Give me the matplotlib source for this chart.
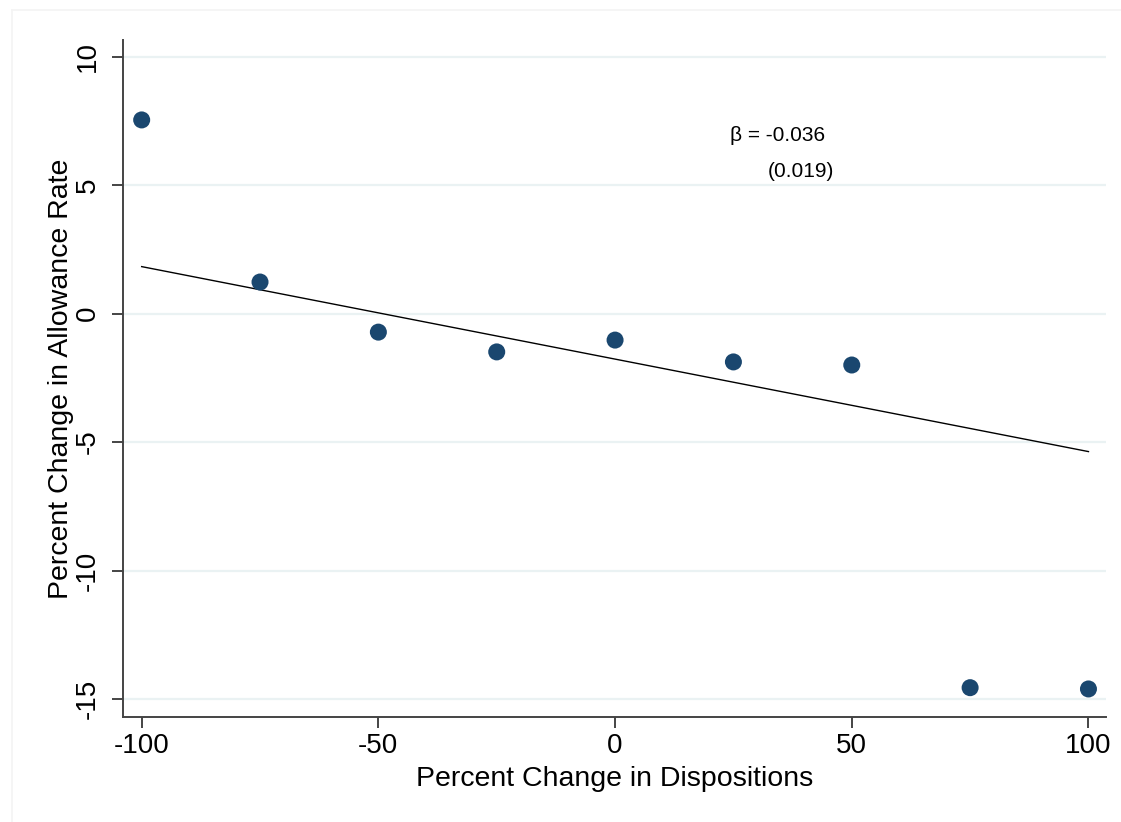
import numpy as np
import matplotlib.pyplot as plt
from matplotlib.lines import Line2D

plt.rcParams['font.family'] = ['Liberation Sans', 'DejaVu Sans']

# binned means
disp_change = [-100, -75, -50, -25, 0, 25, 50, 75, 100]
allow_change = [7.54, 1.23, -0.72, -1.49, -1.03, -1.88, -2.00, -14.56, -14.61]

# fitted line (from the underlying regression)
beta = -0.036
intercept = -1.77
beta_se = 0.019

xticks = [-100, -50, 0, 50, 100]
yticks = [-15, -10, -5, 0, 5, 10]

navy = '#1a476f'

fig = plt.figure(figsize=(11.21, 8.22), dpi=100)
ax = fig.add_axes([0.1097, 0.1281, 0.8769, 0.8232])

# faint outer frame of the graph region
fig.add_artist(Line2D([12/1121, 1.0], [1 - 10/822, 1 - 10/822], color='#f4f4f4', lw=1.2))
fig.add_artist(Line2D([12/1121, 12/1121], [0.0, 1 - 10/822], color='#f4f4f4', lw=1.2))

ax.set_xlim(-103.95, 103.7)
ax.set_ylim(-15.69, 10.65)

for yv in yticks:
    ax.axhline(yv, color='#eaf2f3', lw=1.6, zorder=0)

x_fit = np.array([disp_change[0], disp_change[-1]])
ax.plot(x_fit, intercept + beta * x_fit, color='black', lw=1.0, zorder=2)

ax.scatter(disp_change, allow_change, s=150, color=navy, edgecolors='none', zorder=3)

ax.text(34.4, 6.95, f'β = {beta:.3f}', ha='center', va='center', fontsize=15)
ax.text(39.3, 5.55, f'({beta_se:.3f})', ha='center', va='center', fontsize=15)

ax.spines['top'].set_visible(False)
ax.spines['right'].set_visible(False)
for s in ['left', 'bottom']:
    ax.spines[s].set_color('#444444')
    ax.spines[s].set_linewidth(1.4)

ax.set_xticks(xticks)
ax.set_yticks(yticks)
ax.set_xticklabels([str(v) for v in xticks])
ax.set_yticklabels([str(v) for v in yticks], rotation=90, va='center')
ax.tick_params(axis='both', direction='out', length=8, width=1.4, color='#444444',
               labelsize=20, labelcolor='black')
ax.tick_params(axis='x', pad=4)
ax.tick_params(axis='y', pad=8)

ax.set_xlabel('Percent Change in Dispositions', fontsize=20.5, labelpad=5)
ax.set_ylabel('Percent Change in Allowance Rate', fontsize=20.5, labelpad=0.5)

fig.savefig('out.png', dpi=100)
